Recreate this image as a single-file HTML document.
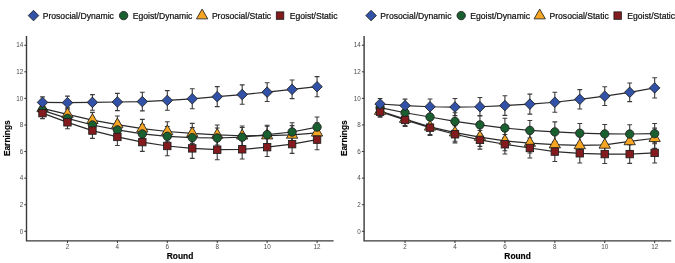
<!DOCTYPE html>
<html><head><meta charset="utf-8"><title>Earnings by Round</title>
<style>
html,body{margin:0;padding:0;background:#fff;}
body{width:675px;height:263px;overflow:hidden;}
svg{display:block;filter:blur(0.3px);}
text{font-family:"Liberation Sans",sans-serif;}
.tk{font-size:6.3px;fill:#4d4d4d;}
.ttl{font-size:8.4px;font-weight:bold;fill:#000;stroke:#000;stroke-width:0.15px;}
.lg{font-size:8.6px;fill:#111;stroke:#111;stroke-width:0.22px;}
</style></head><body>
<svg width="675" height="263" viewBox="0 0 675 263">
<rect width="675" height="263" fill="#fff"/>
<path d="M26.5 36V240.9H333.6" fill="none" stroke="#3a3a3a" stroke-width="1.4"/>
<line x1="24.3" y1="231.3" x2="26.5" y2="231.3" stroke="#333" stroke-width="1"/>
<text x="23.2" y="233.5" class="tk" text-anchor="end">0</text>
<line x1="24.3" y1="204.72" x2="26.5" y2="204.72" stroke="#333" stroke-width="1"/>
<text x="23.2" y="206.92" class="tk" text-anchor="end">2</text>
<line x1="24.3" y1="178.14" x2="26.5" y2="178.14" stroke="#333" stroke-width="1"/>
<text x="23.2" y="180.34" class="tk" text-anchor="end">4</text>
<line x1="24.3" y1="151.56" x2="26.5" y2="151.56" stroke="#333" stroke-width="1"/>
<text x="23.2" y="153.76" class="tk" text-anchor="end">6</text>
<line x1="24.3" y1="124.98" x2="26.5" y2="124.98" stroke="#333" stroke-width="1"/>
<text x="23.2" y="127.18" class="tk" text-anchor="end">8</text>
<line x1="24.3" y1="98.4" x2="26.5" y2="98.4" stroke="#333" stroke-width="1"/>
<text x="23.2" y="100.6" class="tk" text-anchor="end">10</text>
<line x1="24.3" y1="71.82" x2="26.5" y2="71.82" stroke="#333" stroke-width="1"/>
<text x="23.2" y="74.02" class="tk" text-anchor="end">12</text>
<line x1="24.3" y1="45.24" x2="26.5" y2="45.24" stroke="#333" stroke-width="1"/>
<text x="23.2" y="47.44" class="tk" text-anchor="end">14</text>
<line x1="67.46" y1="240.9" x2="67.46" y2="243.1" stroke="#333" stroke-width="1"/>
<text x="67.46" y="249.15" class="tk" text-anchor="middle">2</text>
<line x1="117.38" y1="240.9" x2="117.38" y2="243.1" stroke="#333" stroke-width="1"/>
<text x="117.38" y="249.15" class="tk" text-anchor="middle">4</text>
<line x1="167.3" y1="240.9" x2="167.3" y2="243.1" stroke="#333" stroke-width="1"/>
<text x="167.3" y="249.15" class="tk" text-anchor="middle">6</text>
<line x1="217.22" y1="240.9" x2="217.22" y2="243.1" stroke="#333" stroke-width="1"/>
<text x="217.22" y="249.15" class="tk" text-anchor="middle">8</text>
<line x1="267.14" y1="240.9" x2="267.14" y2="243.1" stroke="#333" stroke-width="1"/>
<text x="267.14" y="249.15" class="tk" text-anchor="middle">10</text>
<line x1="317.06" y1="240.9" x2="317.06" y2="243.1" stroke="#333" stroke-width="1"/>
<text x="317.06" y="249.15" class="tk" text-anchor="middle">12</text>
<text x="180" y="258.8" class="ttl" text-anchor="middle">Round</text>
<text transform="translate(9.8 138.2) rotate(-90)" class="ttl" text-anchor="middle">Earnings</text>
<polyline points="42.5,102.39 67.46,102.65 92.42,102.39 117.38,101.99 142.34,101.59 167.3,100.39 192.26,98.8 217.22,96.67 242.18,94.55 267.14,92.15 292.1,89.36 317.06,86.7" fill="none" stroke="#2a2a2a" stroke-width="1.2"/>
<polyline points="42.5,108.37 67.46,114.35 92.42,120.2 117.38,124.58 142.34,128.7 167.3,131.49 192.26,133.35 217.22,134.95 242.18,135.74 267.14,135.61 292.1,134.95 317.06,132.82" fill="none" stroke="#2a2a2a" stroke-width="1.2"/>
<polyline points="42.5,110.36 67.46,118.34 92.42,124.98 117.38,129.9 142.34,133.88 167.3,136.28 192.26,137.61 217.22,138 242.18,137.21 267.14,134.68 292.1,132.02 317.06,127.11" fill="none" stroke="#2a2a2a" stroke-width="1.2"/>
<polyline points="42.5,113.15 67.46,122.32 92.42,130.56 117.38,136.94 142.34,142.12 167.3,145.98 192.26,148.37 217.22,149.7 242.18,149.3 267.14,147.17 292.1,144.12 317.06,139.6" fill="none" stroke="#2a2a2a" stroke-width="1.2"/>
<path d="M42.5 96.89V107.89M40.1 96.89H44.9M40.1 107.89H44.9" fill="none" stroke="#3a3a3a" stroke-width="1.1"/>
<path d="M67.46 96.15V109.15M65.06 96.15H69.86M65.06 109.15H69.86" fill="none" stroke="#3a3a3a" stroke-width="1.1"/>
<path d="M92.42 94.59V110.19M90.02 94.59H94.82M90.02 110.19H94.82" fill="none" stroke="#3a3a3a" stroke-width="1.1"/>
<path d="M117.38 93.39V110.59M114.98 93.39H119.78M114.98 110.59H119.78" fill="none" stroke="#3a3a3a" stroke-width="1.1"/>
<path d="M142.34 92.29V110.89M139.94 92.29H144.74M139.94 110.89H144.74" fill="none" stroke="#3a3a3a" stroke-width="1.1"/>
<path d="M167.3 90.59V110.19M164.9 90.59H169.7M164.9 110.19H169.7" fill="none" stroke="#3a3a3a" stroke-width="1.1"/>
<path d="M192.26 88.8V108.8M189.86 88.8H194.66M189.86 108.8H194.66" fill="none" stroke="#3a3a3a" stroke-width="1.1"/>
<path d="M217.22 86.67V106.67M214.82 86.67H219.62M214.82 106.67H219.62" fill="none" stroke="#3a3a3a" stroke-width="1.1"/>
<path d="M242.18 84.85V104.25M239.78 84.85H244.58M239.78 104.25H244.58" fill="none" stroke="#3a3a3a" stroke-width="1.1"/>
<path d="M267.14 82.75V101.55M264.74 82.75H269.54M264.74 101.55H269.54" fill="none" stroke="#3a3a3a" stroke-width="1.1"/>
<path d="M292.1 80.06V98.66M289.7 80.06H294.5M289.7 98.66H294.5" fill="none" stroke="#3a3a3a" stroke-width="1.1"/>
<path d="M317.06 76.6V96.8M314.66 76.6H319.46M314.66 96.8H319.46" fill="none" stroke="#3a3a3a" stroke-width="1.1"/>
<path d="M42.5 102.87V113.87M40.1 102.87H44.9M40.1 113.87H44.9" fill="none" stroke="#3a3a3a" stroke-width="1.1"/>
<path d="M67.46 107.85V120.85M65.06 107.85H69.86M65.06 120.85H69.86" fill="none" stroke="#3a3a3a" stroke-width="1.1"/>
<path d="M92.42 112.4V128M90.02 112.4H94.82M90.02 128H94.82" fill="none" stroke="#3a3a3a" stroke-width="1.1"/>
<path d="M117.38 115.98V133.18M114.98 115.98H119.78M114.98 133.18H119.78" fill="none" stroke="#3a3a3a" stroke-width="1.1"/>
<path d="M142.34 119.4V138M139.94 119.4H144.74M139.94 138H144.74" fill="none" stroke="#3a3a3a" stroke-width="1.1"/>
<path d="M167.3 121.69V141.29M164.9 121.69H169.7M164.9 141.29H169.7" fill="none" stroke="#3a3a3a" stroke-width="1.1"/>
<path d="M192.26 123.35V143.35M189.86 123.35H194.66M189.86 143.35H194.66" fill="none" stroke="#3a3a3a" stroke-width="1.1"/>
<path d="M217.22 124.95V144.95M214.82 124.95H219.62M214.82 144.95H219.62" fill="none" stroke="#3a3a3a" stroke-width="1.1"/>
<path d="M242.18 126.04V145.44M239.78 126.04H244.58M239.78 145.44H244.58" fill="none" stroke="#3a3a3a" stroke-width="1.1"/>
<path d="M267.14 126.21V145.01M264.74 126.21H269.54M264.74 145.01H269.54" fill="none" stroke="#3a3a3a" stroke-width="1.1"/>
<path d="M292.1 125.65V144.25M289.7 125.65H294.5M289.7 144.25H294.5" fill="none" stroke="#3a3a3a" stroke-width="1.1"/>
<path d="M317.06 122.72V142.92M314.66 122.72H319.46M314.66 142.92H319.46" fill="none" stroke="#3a3a3a" stroke-width="1.1"/>
<path d="M42.5 104.86V115.86M40.1 104.86H44.9M40.1 115.86H44.9" fill="none" stroke="#3a3a3a" stroke-width="1.1"/>
<path d="M67.46 111.84V124.84M65.06 111.84H69.86M65.06 124.84H69.86" fill="none" stroke="#3a3a3a" stroke-width="1.1"/>
<path d="M92.42 117.18V132.78M90.02 117.18H94.82M90.02 132.78H94.82" fill="none" stroke="#3a3a3a" stroke-width="1.1"/>
<path d="M117.38 121.3V138.5M114.98 121.3H119.78M114.98 138.5H119.78" fill="none" stroke="#3a3a3a" stroke-width="1.1"/>
<path d="M142.34 124.58V143.18M139.94 124.58H144.74M139.94 143.18H144.74" fill="none" stroke="#3a3a3a" stroke-width="1.1"/>
<path d="M167.3 126.48V146.08M164.9 126.48H169.7M164.9 146.08H169.7" fill="none" stroke="#3a3a3a" stroke-width="1.1"/>
<path d="M192.26 127.61V147.61M189.86 127.61H194.66M189.86 147.61H194.66" fill="none" stroke="#3a3a3a" stroke-width="1.1"/>
<path d="M217.22 128V148M214.82 128H219.62M214.82 148H219.62" fill="none" stroke="#3a3a3a" stroke-width="1.1"/>
<path d="M242.18 127.51V146.91M239.78 127.51H244.58M239.78 146.91H244.58" fill="none" stroke="#3a3a3a" stroke-width="1.1"/>
<path d="M267.14 125.28V144.08M264.74 125.28H269.54M264.74 144.08H269.54" fill="none" stroke="#3a3a3a" stroke-width="1.1"/>
<path d="M292.1 122.72V141.32M289.7 122.72H294.5M289.7 141.32H294.5" fill="none" stroke="#3a3a3a" stroke-width="1.1"/>
<path d="M317.06 117.01V137.21M314.66 117.01H319.46M314.66 137.21H319.46" fill="none" stroke="#3a3a3a" stroke-width="1.1"/>
<path d="M42.5 107.65V118.65M40.1 107.65H44.9M40.1 118.65H44.9" fill="none" stroke="#3a3a3a" stroke-width="1.1"/>
<path d="M67.46 115.82V128.82M65.06 115.82H69.86M65.06 128.82H69.86" fill="none" stroke="#3a3a3a" stroke-width="1.1"/>
<path d="M92.42 122.76V138.36M90.02 122.76H94.82M90.02 138.36H94.82" fill="none" stroke="#3a3a3a" stroke-width="1.1"/>
<path d="M117.38 128.34V145.54M114.98 128.34H119.78M114.98 145.54H119.78" fill="none" stroke="#3a3a3a" stroke-width="1.1"/>
<path d="M142.34 132.82V151.42M139.94 132.82H144.74M139.94 151.42H144.74" fill="none" stroke="#3a3a3a" stroke-width="1.1"/>
<path d="M167.3 136.18V155.78M164.9 136.18H169.7M164.9 155.78H169.7" fill="none" stroke="#3a3a3a" stroke-width="1.1"/>
<path d="M192.26 138.37V158.37M189.86 138.37H194.66M189.86 158.37H194.66" fill="none" stroke="#3a3a3a" stroke-width="1.1"/>
<path d="M217.22 139.7V159.7M214.82 139.7H219.62M214.82 159.7H219.62" fill="none" stroke="#3a3a3a" stroke-width="1.1"/>
<path d="M242.18 139.6V159M239.78 139.6H244.58M239.78 159H244.58" fill="none" stroke="#3a3a3a" stroke-width="1.1"/>
<path d="M267.14 137.77V156.57M264.74 137.77H269.54M264.74 156.57H269.54" fill="none" stroke="#3a3a3a" stroke-width="1.1"/>
<path d="M292.1 134.82V153.42M289.7 134.82H294.5M289.7 153.42H294.5" fill="none" stroke="#3a3a3a" stroke-width="1.1"/>
<path d="M317.06 129.5V149.7M314.66 129.5H319.46M314.66 149.7H319.46" fill="none" stroke="#3a3a3a" stroke-width="1.1"/>
<path d="M42.5 101.84L48.16 111.63L36.84 111.63Z" fill="#f6a623" stroke="#1e1e1e" stroke-width="0.85" stroke-linejoin="miter"/>
<path d="M67.46 107.82L73.12 117.61L61.8 117.61Z" fill="#f6a623" stroke="#1e1e1e" stroke-width="0.85" stroke-linejoin="miter"/>
<path d="M92.42 113.66L98.08 123.46L86.76 123.46Z" fill="#f6a623" stroke="#1e1e1e" stroke-width="0.85" stroke-linejoin="miter"/>
<path d="M117.38 118.05L123.04 127.85L111.72 127.85Z" fill="#f6a623" stroke="#1e1e1e" stroke-width="0.85" stroke-linejoin="miter"/>
<path d="M142.34 122.17L148 131.97L136.68 131.97Z" fill="#f6a623" stroke="#1e1e1e" stroke-width="0.85" stroke-linejoin="miter"/>
<path d="M167.3 124.96L172.96 134.76L161.64 134.76Z" fill="#f6a623" stroke="#1e1e1e" stroke-width="0.85" stroke-linejoin="miter"/>
<path d="M192.26 126.82L197.92 136.62L186.6 136.62Z" fill="#f6a623" stroke="#1e1e1e" stroke-width="0.85" stroke-linejoin="miter"/>
<path d="M217.22 128.42L222.88 138.21L211.56 138.21Z" fill="#f6a623" stroke="#1e1e1e" stroke-width="0.85" stroke-linejoin="miter"/>
<path d="M242.18 129.21L247.84 139.01L236.52 139.01Z" fill="#f6a623" stroke="#1e1e1e" stroke-width="0.85" stroke-linejoin="miter"/>
<path d="M267.14 129.08L272.8 138.88L261.48 138.88Z" fill="#f6a623" stroke="#1e1e1e" stroke-width="0.85" stroke-linejoin="miter"/>
<path d="M292.1 128.42L297.76 138.21L286.44 138.21Z" fill="#f6a623" stroke="#1e1e1e" stroke-width="0.85" stroke-linejoin="miter"/>
<path d="M317.06 126.29L322.72 136.09L311.4 136.09Z" fill="#f6a623" stroke="#1e1e1e" stroke-width="0.85" stroke-linejoin="miter"/>
<circle cx="42.5" cy="110.36" r="4.2" fill="#1a5f30" stroke="#1e1e1e" stroke-width="0.85"/>
<circle cx="67.46" cy="118.34" r="4.2" fill="#1a5f30" stroke="#1e1e1e" stroke-width="0.85"/>
<circle cx="92.42" cy="124.98" r="4.2" fill="#1a5f30" stroke="#1e1e1e" stroke-width="0.85"/>
<circle cx="117.38" cy="129.9" r="4.2" fill="#1a5f30" stroke="#1e1e1e" stroke-width="0.85"/>
<circle cx="142.34" cy="133.88" r="4.2" fill="#1a5f30" stroke="#1e1e1e" stroke-width="0.85"/>
<circle cx="167.3" cy="136.28" r="4.2" fill="#1a5f30" stroke="#1e1e1e" stroke-width="0.85"/>
<circle cx="192.26" cy="137.61" r="4.2" fill="#1a5f30" stroke="#1e1e1e" stroke-width="0.85"/>
<circle cx="217.22" cy="138" r="4.2" fill="#1a5f30" stroke="#1e1e1e" stroke-width="0.85"/>
<circle cx="242.18" cy="137.21" r="4.2" fill="#1a5f30" stroke="#1e1e1e" stroke-width="0.85"/>
<circle cx="267.14" cy="134.68" r="4.2" fill="#1a5f30" stroke="#1e1e1e" stroke-width="0.85"/>
<circle cx="292.1" cy="132.02" r="4.2" fill="#1a5f30" stroke="#1e1e1e" stroke-width="0.85"/>
<circle cx="317.06" cy="127.11" r="4.2" fill="#1a5f30" stroke="#1e1e1e" stroke-width="0.85"/>
<rect x="38.78" y="109.43" width="7.44" height="7.44" fill="#831a1d" stroke="#1e1e1e" stroke-width="0.85"/>
<rect x="63.74" y="118.6" width="7.44" height="7.44" fill="#831a1d" stroke="#1e1e1e" stroke-width="0.85"/>
<rect x="88.7" y="126.84" width="7.44" height="7.44" fill="#831a1d" stroke="#1e1e1e" stroke-width="0.85"/>
<rect x="113.66" y="133.22" width="7.44" height="7.44" fill="#831a1d" stroke="#1e1e1e" stroke-width="0.85"/>
<rect x="138.62" y="138.4" width="7.44" height="7.44" fill="#831a1d" stroke="#1e1e1e" stroke-width="0.85"/>
<rect x="163.58" y="142.26" width="7.44" height="7.44" fill="#831a1d" stroke="#1e1e1e" stroke-width="0.85"/>
<rect x="188.54" y="144.65" width="7.44" height="7.44" fill="#831a1d" stroke="#1e1e1e" stroke-width="0.85"/>
<rect x="213.5" y="145.98" width="7.44" height="7.44" fill="#831a1d" stroke="#1e1e1e" stroke-width="0.85"/>
<rect x="238.46" y="145.58" width="7.44" height="7.44" fill="#831a1d" stroke="#1e1e1e" stroke-width="0.85"/>
<rect x="263.42" y="143.45" width="7.44" height="7.44" fill="#831a1d" stroke="#1e1e1e" stroke-width="0.85"/>
<rect x="288.38" y="140.4" width="7.44" height="7.44" fill="#831a1d" stroke="#1e1e1e" stroke-width="0.85"/>
<rect x="313.34" y="135.88" width="7.44" height="7.44" fill="#831a1d" stroke="#1e1e1e" stroke-width="0.85"/>
<path d="M37.24 102.39L42.5 97.12L47.76 102.39L42.5 107.65Z" fill="#3152a6" stroke="#1e1e1e" stroke-width="0.85" stroke-linejoin="miter"/>
<path d="M62.2 102.65L67.46 97.39L72.72 102.65L67.46 107.92Z" fill="#3152a6" stroke="#1e1e1e" stroke-width="0.85" stroke-linejoin="miter"/>
<path d="M87.16 102.39L92.42 97.12L97.68 102.39L92.42 107.65Z" fill="#3152a6" stroke="#1e1e1e" stroke-width="0.85" stroke-linejoin="miter"/>
<path d="M112.12 101.99L117.38 96.72L122.64 101.99L117.38 107.25Z" fill="#3152a6" stroke="#1e1e1e" stroke-width="0.85" stroke-linejoin="miter"/>
<path d="M137.08 101.59L142.34 96.33L147.6 101.59L142.34 106.85Z" fill="#3152a6" stroke="#1e1e1e" stroke-width="0.85" stroke-linejoin="miter"/>
<path d="M162.04 100.39L167.3 95.13L172.56 100.39L167.3 105.66Z" fill="#3152a6" stroke="#1e1e1e" stroke-width="0.85" stroke-linejoin="miter"/>
<path d="M187 98.8L192.26 93.53L197.52 98.8L192.26 104.06Z" fill="#3152a6" stroke="#1e1e1e" stroke-width="0.85" stroke-linejoin="miter"/>
<path d="M211.96 96.67L217.22 91.41L222.48 96.67L217.22 101.94Z" fill="#3152a6" stroke="#1e1e1e" stroke-width="0.85" stroke-linejoin="miter"/>
<path d="M236.92 94.55L242.18 89.28L247.44 94.55L242.18 99.81Z" fill="#3152a6" stroke="#1e1e1e" stroke-width="0.85" stroke-linejoin="miter"/>
<path d="M261.88 92.15L267.14 86.89L272.4 92.15L267.14 97.42Z" fill="#3152a6" stroke="#1e1e1e" stroke-width="0.85" stroke-linejoin="miter"/>
<path d="M286.84 89.36L292.1 84.1L297.36 89.36L292.1 94.63Z" fill="#3152a6" stroke="#1e1e1e" stroke-width="0.85" stroke-linejoin="miter"/>
<path d="M311.8 86.7L317.06 81.44L322.32 86.7L317.06 91.97Z" fill="#3152a6" stroke="#1e1e1e" stroke-width="0.85" stroke-linejoin="miter"/>
<path d="M28.24 15.6L33.5 10.34L38.76 15.6L33.5 20.86Z" fill="#3152a6" stroke="#1e1e1e" stroke-width="0.85" stroke-linejoin="miter"/>
<text x="42.7" y="18.6" class="lg">Prosocial/Dynamic</text>
<circle cx="123.6" cy="15.6" r="4.2" fill="#1a5f30" stroke="#1e1e1e" stroke-width="0.85"/>
<text x="132.7" y="18.6" class="lg">Egoist/Dynamic</text>
<path d="M202.1 9.07L207.76 18.87L196.44 18.87Z" fill="#f6a623" stroke="#1e1e1e" stroke-width="0.85" stroke-linejoin="miter"/>
<text x="211.9" y="18.6" class="lg">Prosocial/Static</text>
<rect x="276.33" y="11.88" width="7.44" height="7.44" fill="#831a1d" stroke="#1e1e1e" stroke-width="0.85"/>
<text x="289.7" y="18.6" class="lg">Egoist/Static</text>
<path d="M364.1 36V240.9H671.2" fill="none" stroke="#3a3a3a" stroke-width="1.4"/>
<line x1="361.9" y1="231.3" x2="364.1" y2="231.3" stroke="#333" stroke-width="1"/>
<text x="360.8" y="233.5" class="tk" text-anchor="end">0</text>
<line x1="361.9" y1="204.72" x2="364.1" y2="204.72" stroke="#333" stroke-width="1"/>
<text x="360.8" y="206.92" class="tk" text-anchor="end">2</text>
<line x1="361.9" y1="178.14" x2="364.1" y2="178.14" stroke="#333" stroke-width="1"/>
<text x="360.8" y="180.34" class="tk" text-anchor="end">4</text>
<line x1="361.9" y1="151.56" x2="364.1" y2="151.56" stroke="#333" stroke-width="1"/>
<text x="360.8" y="153.76" class="tk" text-anchor="end">6</text>
<line x1="361.9" y1="124.98" x2="364.1" y2="124.98" stroke="#333" stroke-width="1"/>
<text x="360.8" y="127.18" class="tk" text-anchor="end">8</text>
<line x1="361.9" y1="98.4" x2="364.1" y2="98.4" stroke="#333" stroke-width="1"/>
<text x="360.8" y="100.6" class="tk" text-anchor="end">10</text>
<line x1="361.9" y1="71.82" x2="364.1" y2="71.82" stroke="#333" stroke-width="1"/>
<text x="360.8" y="74.02" class="tk" text-anchor="end">12</text>
<line x1="361.9" y1="45.24" x2="364.1" y2="45.24" stroke="#333" stroke-width="1"/>
<text x="360.8" y="47.44" class="tk" text-anchor="end">14</text>
<line x1="405.06" y1="240.9" x2="405.06" y2="243.1" stroke="#333" stroke-width="1"/>
<text x="405.06" y="249.15" class="tk" text-anchor="middle">2</text>
<line x1="454.98" y1="240.9" x2="454.98" y2="243.1" stroke="#333" stroke-width="1"/>
<text x="454.98" y="249.15" class="tk" text-anchor="middle">4</text>
<line x1="504.9" y1="240.9" x2="504.9" y2="243.1" stroke="#333" stroke-width="1"/>
<text x="504.9" y="249.15" class="tk" text-anchor="middle">6</text>
<line x1="554.82" y1="240.9" x2="554.82" y2="243.1" stroke="#333" stroke-width="1"/>
<text x="554.82" y="249.15" class="tk" text-anchor="middle">8</text>
<line x1="604.74" y1="240.9" x2="604.74" y2="243.1" stroke="#333" stroke-width="1"/>
<text x="604.74" y="249.15" class="tk" text-anchor="middle">10</text>
<line x1="654.66" y1="240.9" x2="654.66" y2="243.1" stroke="#333" stroke-width="1"/>
<text x="654.66" y="249.15" class="tk" text-anchor="middle">12</text>
<text x="517.6" y="258.8" class="ttl" text-anchor="middle">Round</text>
<text transform="translate(347.4 138.2) rotate(-90)" class="ttl" text-anchor="middle">Earnings</text>
<polyline points="380.1,103.98 405.06,105.58 430.02,106.77 454.98,107.04 479.94,106.77 504.9,105.58 529.86,104.11 554.82,102.25 579.78,99.33 604.74,96.14 629.7,92.29 654.66,87.9" fill="none" stroke="#2a2a2a" stroke-width="1.2"/>
<polyline points="380.1,111.03 405.06,119.13 430.02,126.84 454.98,132.69 479.94,137.07 504.9,140.93 529.86,143.05 554.82,144.65 579.78,145.45 604.74,144.92 629.7,141.46 654.66,138.27" fill="none" stroke="#2a2a2a" stroke-width="1.2"/>
<polyline points="380.1,107.7 405.06,112.75 430.02,117.01 454.98,121.39 479.94,124.85 504.9,128.04 529.86,130.43 554.82,131.89 579.78,133.22 604.74,133.88 629.7,134.02 654.66,133.62" fill="none" stroke="#2a2a2a" stroke-width="1.2"/>
<polyline points="380.1,111.69 405.06,119.93 430.02,127.64 454.98,134.28 479.94,139.86 504.9,144.25 529.86,147.97 554.82,151.56 579.78,153.29 604.74,154.09 629.7,154.09 654.66,152.89" fill="none" stroke="#2a2a2a" stroke-width="1.2"/>
<path d="M380.1 98.48V109.48M377.7 98.48H382.5M377.7 109.48H382.5" fill="none" stroke="#3a3a3a" stroke-width="1.1"/>
<path d="M405.06 99.08V112.08M402.66 99.08H407.46M402.66 112.08H407.46" fill="none" stroke="#3a3a3a" stroke-width="1.1"/>
<path d="M430.02 98.97V114.57M427.62 98.97H432.42M427.62 114.57H432.42" fill="none" stroke="#3a3a3a" stroke-width="1.1"/>
<path d="M454.98 98.44V115.64M452.58 98.44H457.38M452.58 115.64H457.38" fill="none" stroke="#3a3a3a" stroke-width="1.1"/>
<path d="M479.94 97.47V116.07M477.54 97.47H482.34M477.54 116.07H482.34" fill="none" stroke="#3a3a3a" stroke-width="1.1"/>
<path d="M504.9 95.78V115.38M502.5 95.78H507.3M502.5 115.38H507.3" fill="none" stroke="#3a3a3a" stroke-width="1.1"/>
<path d="M529.86 94.11V114.11M527.46 94.11H532.26M527.46 114.11H532.26" fill="none" stroke="#3a3a3a" stroke-width="1.1"/>
<path d="M554.82 92.25V112.25M552.42 92.25H557.22M552.42 112.25H557.22" fill="none" stroke="#3a3a3a" stroke-width="1.1"/>
<path d="M579.78 89.63V109.03M577.38 89.63H582.18M577.38 109.03H582.18" fill="none" stroke="#3a3a3a" stroke-width="1.1"/>
<path d="M604.74 86.74V105.54M602.34 86.74H607.14M602.34 105.54H607.14" fill="none" stroke="#3a3a3a" stroke-width="1.1"/>
<path d="M629.7 82.99V101.59M627.3 82.99H632.1M627.3 101.59H632.1" fill="none" stroke="#3a3a3a" stroke-width="1.1"/>
<path d="M654.66 77.8V98M652.26 77.8H657.06M652.26 98H657.06" fill="none" stroke="#3a3a3a" stroke-width="1.1"/>
<path d="M380.1 105.53V116.53M377.7 105.53H382.5M377.7 116.53H382.5" fill="none" stroke="#3a3a3a" stroke-width="1.1"/>
<path d="M405.06 112.63V125.63M402.66 112.63H407.46M402.66 125.63H407.46" fill="none" stroke="#3a3a3a" stroke-width="1.1"/>
<path d="M430.02 119.04V134.64M427.62 119.04H432.42M427.62 134.64H432.42" fill="none" stroke="#3a3a3a" stroke-width="1.1"/>
<path d="M454.98 124.09V141.29M452.58 124.09H457.38M452.58 141.29H457.38" fill="none" stroke="#3a3a3a" stroke-width="1.1"/>
<path d="M479.94 127.77V146.37M477.54 127.77H482.34M477.54 146.37H482.34" fill="none" stroke="#3a3a3a" stroke-width="1.1"/>
<path d="M504.9 131.13V150.73M502.5 131.13H507.3M502.5 150.73H507.3" fill="none" stroke="#3a3a3a" stroke-width="1.1"/>
<path d="M529.86 133.05V153.05M527.46 133.05H532.26M527.46 153.05H532.26" fill="none" stroke="#3a3a3a" stroke-width="1.1"/>
<path d="M554.82 134.65V154.65M552.42 134.65H557.22M552.42 154.65H557.22" fill="none" stroke="#3a3a3a" stroke-width="1.1"/>
<path d="M579.78 135.75V155.15M577.38 135.75H582.18M577.38 155.15H582.18" fill="none" stroke="#3a3a3a" stroke-width="1.1"/>
<path d="M604.74 135.52V154.32M602.34 135.52H607.14M602.34 154.32H607.14" fill="none" stroke="#3a3a3a" stroke-width="1.1"/>
<path d="M629.7 132.16V150.76M627.3 132.16H632.1M627.3 150.76H632.1" fill="none" stroke="#3a3a3a" stroke-width="1.1"/>
<path d="M654.66 128.17V148.37M652.26 128.17H657.06M652.26 148.37H657.06" fill="none" stroke="#3a3a3a" stroke-width="1.1"/>
<path d="M380.1 102.2V113.2M377.7 102.2H382.5M377.7 113.2H382.5" fill="none" stroke="#3a3a3a" stroke-width="1.1"/>
<path d="M405.06 106.25V119.25M402.66 106.25H407.46M402.66 119.25H407.46" fill="none" stroke="#3a3a3a" stroke-width="1.1"/>
<path d="M430.02 109.21V124.81M427.62 109.21H432.42M427.62 124.81H432.42" fill="none" stroke="#3a3a3a" stroke-width="1.1"/>
<path d="M454.98 112.79V129.99M452.58 112.79H457.38M452.58 129.99H457.38" fill="none" stroke="#3a3a3a" stroke-width="1.1"/>
<path d="M479.94 115.55V134.15M477.54 115.55H482.34M477.54 134.15H482.34" fill="none" stroke="#3a3a3a" stroke-width="1.1"/>
<path d="M504.9 118.24V137.84M502.5 118.24H507.3M502.5 137.84H507.3" fill="none" stroke="#3a3a3a" stroke-width="1.1"/>
<path d="M529.86 120.43V140.43M527.46 120.43H532.26M527.46 140.43H532.26" fill="none" stroke="#3a3a3a" stroke-width="1.1"/>
<path d="M554.82 121.89V141.89M552.42 121.89H557.22M552.42 141.89H557.22" fill="none" stroke="#3a3a3a" stroke-width="1.1"/>
<path d="M579.78 123.52V142.92M577.38 123.52H582.18M577.38 142.92H582.18" fill="none" stroke="#3a3a3a" stroke-width="1.1"/>
<path d="M604.74 124.48V143.28M602.34 124.48H607.14M602.34 143.28H607.14" fill="none" stroke="#3a3a3a" stroke-width="1.1"/>
<path d="M629.7 124.72V143.32M627.3 124.72H632.1M627.3 143.32H632.1" fill="none" stroke="#3a3a3a" stroke-width="1.1"/>
<path d="M654.66 123.52V143.72M652.26 123.52H657.06M652.26 143.72H657.06" fill="none" stroke="#3a3a3a" stroke-width="1.1"/>
<path d="M380.1 106.19V117.19M377.7 106.19H382.5M377.7 117.19H382.5" fill="none" stroke="#3a3a3a" stroke-width="1.1"/>
<path d="M405.06 113.43V126.43M402.66 113.43H407.46M402.66 126.43H407.46" fill="none" stroke="#3a3a3a" stroke-width="1.1"/>
<path d="M430.02 119.84V135.44M427.62 119.84H432.42M427.62 135.44H432.42" fill="none" stroke="#3a3a3a" stroke-width="1.1"/>
<path d="M454.98 125.68V142.88M452.58 125.68H457.38M452.58 142.88H457.38" fill="none" stroke="#3a3a3a" stroke-width="1.1"/>
<path d="M479.94 130.56V149.16M477.54 130.56H482.34M477.54 149.16H482.34" fill="none" stroke="#3a3a3a" stroke-width="1.1"/>
<path d="M504.9 134.45V154.05M502.5 134.45H507.3M502.5 154.05H507.3" fill="none" stroke="#3a3a3a" stroke-width="1.1"/>
<path d="M529.86 137.97V157.97M527.46 137.97H532.26M527.46 157.97H532.26" fill="none" stroke="#3a3a3a" stroke-width="1.1"/>
<path d="M554.82 141.56V161.56M552.42 141.56H557.22M552.42 161.56H557.22" fill="none" stroke="#3a3a3a" stroke-width="1.1"/>
<path d="M579.78 143.59V162.99M577.38 143.59H582.18M577.38 162.99H582.18" fill="none" stroke="#3a3a3a" stroke-width="1.1"/>
<path d="M604.74 144.69V163.49M602.34 144.69H607.14M602.34 163.49H607.14" fill="none" stroke="#3a3a3a" stroke-width="1.1"/>
<path d="M629.7 144.79V163.39M627.3 144.79H632.1M627.3 163.39H632.1" fill="none" stroke="#3a3a3a" stroke-width="1.1"/>
<path d="M654.66 142.79V162.99M652.26 142.79H657.06M652.26 162.99H657.06" fill="none" stroke="#3a3a3a" stroke-width="1.1"/>
<path d="M380.1 104.49L385.76 114.29L374.44 114.29Z" fill="#f6a623" stroke="#1e1e1e" stroke-width="0.85" stroke-linejoin="miter"/>
<path d="M405.06 112.6L410.72 122.4L399.4 122.4Z" fill="#f6a623" stroke="#1e1e1e" stroke-width="0.85" stroke-linejoin="miter"/>
<path d="M430.02 120.31L435.68 130.11L424.36 130.11Z" fill="#f6a623" stroke="#1e1e1e" stroke-width="0.85" stroke-linejoin="miter"/>
<path d="M454.98 126.16L460.64 135.95L449.32 135.95Z" fill="#f6a623" stroke="#1e1e1e" stroke-width="0.85" stroke-linejoin="miter"/>
<path d="M479.94 130.54L485.6 140.34L474.28 140.34Z" fill="#f6a623" stroke="#1e1e1e" stroke-width="0.85" stroke-linejoin="miter"/>
<path d="M504.9 134.4L510.56 144.19L499.24 144.19Z" fill="#f6a623" stroke="#1e1e1e" stroke-width="0.85" stroke-linejoin="miter"/>
<path d="M529.86 136.52L535.52 146.32L524.2 146.32Z" fill="#f6a623" stroke="#1e1e1e" stroke-width="0.85" stroke-linejoin="miter"/>
<path d="M554.82 138.12L560.48 147.92L549.16 147.92Z" fill="#f6a623" stroke="#1e1e1e" stroke-width="0.85" stroke-linejoin="miter"/>
<path d="M579.78 138.92L585.44 148.71L574.12 148.71Z" fill="#f6a623" stroke="#1e1e1e" stroke-width="0.85" stroke-linejoin="miter"/>
<path d="M604.74 138.38L610.4 148.18L599.08 148.18Z" fill="#f6a623" stroke="#1e1e1e" stroke-width="0.85" stroke-linejoin="miter"/>
<path d="M629.7 134.93L635.36 144.73L624.04 144.73Z" fill="#f6a623" stroke="#1e1e1e" stroke-width="0.85" stroke-linejoin="miter"/>
<path d="M654.66 131.74L660.32 141.54L649 141.54Z" fill="#f6a623" stroke="#1e1e1e" stroke-width="0.85" stroke-linejoin="miter"/>
<circle cx="380.1" cy="107.7" r="4.2" fill="#1a5f30" stroke="#1e1e1e" stroke-width="0.85"/>
<circle cx="405.06" cy="112.75" r="4.2" fill="#1a5f30" stroke="#1e1e1e" stroke-width="0.85"/>
<circle cx="430.02" cy="117.01" r="4.2" fill="#1a5f30" stroke="#1e1e1e" stroke-width="0.85"/>
<circle cx="454.98" cy="121.39" r="4.2" fill="#1a5f30" stroke="#1e1e1e" stroke-width="0.85"/>
<circle cx="479.94" cy="124.85" r="4.2" fill="#1a5f30" stroke="#1e1e1e" stroke-width="0.85"/>
<circle cx="504.9" cy="128.04" r="4.2" fill="#1a5f30" stroke="#1e1e1e" stroke-width="0.85"/>
<circle cx="529.86" cy="130.43" r="4.2" fill="#1a5f30" stroke="#1e1e1e" stroke-width="0.85"/>
<circle cx="554.82" cy="131.89" r="4.2" fill="#1a5f30" stroke="#1e1e1e" stroke-width="0.85"/>
<circle cx="579.78" cy="133.22" r="4.2" fill="#1a5f30" stroke="#1e1e1e" stroke-width="0.85"/>
<circle cx="604.74" cy="133.88" r="4.2" fill="#1a5f30" stroke="#1e1e1e" stroke-width="0.85"/>
<circle cx="629.7" cy="134.02" r="4.2" fill="#1a5f30" stroke="#1e1e1e" stroke-width="0.85"/>
<circle cx="654.66" cy="133.62" r="4.2" fill="#1a5f30" stroke="#1e1e1e" stroke-width="0.85"/>
<rect x="376.38" y="107.97" width="7.44" height="7.44" fill="#831a1d" stroke="#1e1e1e" stroke-width="0.85"/>
<rect x="401.34" y="116.21" width="7.44" height="7.44" fill="#831a1d" stroke="#1e1e1e" stroke-width="0.85"/>
<rect x="426.3" y="123.92" width="7.44" height="7.44" fill="#831a1d" stroke="#1e1e1e" stroke-width="0.85"/>
<rect x="451.26" y="130.56" width="7.44" height="7.44" fill="#831a1d" stroke="#1e1e1e" stroke-width="0.85"/>
<rect x="476.22" y="136.14" width="7.44" height="7.44" fill="#831a1d" stroke="#1e1e1e" stroke-width="0.85"/>
<rect x="501.18" y="140.53" width="7.44" height="7.44" fill="#831a1d" stroke="#1e1e1e" stroke-width="0.85"/>
<rect x="526.14" y="144.25" width="7.44" height="7.44" fill="#831a1d" stroke="#1e1e1e" stroke-width="0.85"/>
<rect x="551.1" y="147.84" width="7.44" height="7.44" fill="#831a1d" stroke="#1e1e1e" stroke-width="0.85"/>
<rect x="576.06" y="149.57" width="7.44" height="7.44" fill="#831a1d" stroke="#1e1e1e" stroke-width="0.85"/>
<rect x="601.02" y="150.36" width="7.44" height="7.44" fill="#831a1d" stroke="#1e1e1e" stroke-width="0.85"/>
<rect x="625.98" y="150.36" width="7.44" height="7.44" fill="#831a1d" stroke="#1e1e1e" stroke-width="0.85"/>
<rect x="650.94" y="149.17" width="7.44" height="7.44" fill="#831a1d" stroke="#1e1e1e" stroke-width="0.85"/>
<path d="M374.84 103.98L380.1 98.72L385.36 103.98L380.1 109.25Z" fill="#3152a6" stroke="#1e1e1e" stroke-width="0.85" stroke-linejoin="miter"/>
<path d="M399.8 105.58L405.06 100.31L410.32 105.58L405.06 110.84Z" fill="#3152a6" stroke="#1e1e1e" stroke-width="0.85" stroke-linejoin="miter"/>
<path d="M424.76 106.77L430.02 101.51L435.28 106.77L430.02 112.04Z" fill="#3152a6" stroke="#1e1e1e" stroke-width="0.85" stroke-linejoin="miter"/>
<path d="M449.72 107.04L454.98 101.77L460.24 107.04L454.98 112.3Z" fill="#3152a6" stroke="#1e1e1e" stroke-width="0.85" stroke-linejoin="miter"/>
<path d="M474.68 106.77L479.94 101.51L485.2 106.77L479.94 112.04Z" fill="#3152a6" stroke="#1e1e1e" stroke-width="0.85" stroke-linejoin="miter"/>
<path d="M499.64 105.58L504.9 100.31L510.16 105.58L504.9 110.84Z" fill="#3152a6" stroke="#1e1e1e" stroke-width="0.85" stroke-linejoin="miter"/>
<path d="M524.6 104.11L529.86 98.85L535.12 104.11L529.86 109.38Z" fill="#3152a6" stroke="#1e1e1e" stroke-width="0.85" stroke-linejoin="miter"/>
<path d="M549.56 102.25L554.82 96.99L560.08 102.25L554.82 107.52Z" fill="#3152a6" stroke="#1e1e1e" stroke-width="0.85" stroke-linejoin="miter"/>
<path d="M574.52 99.33L579.78 94.07L585.04 99.33L579.78 104.59Z" fill="#3152a6" stroke="#1e1e1e" stroke-width="0.85" stroke-linejoin="miter"/>
<path d="M599.48 96.14L604.74 90.88L610 96.14L604.74 101.4Z" fill="#3152a6" stroke="#1e1e1e" stroke-width="0.85" stroke-linejoin="miter"/>
<path d="M624.44 92.29L629.7 87.02L634.96 92.29L629.7 97.55Z" fill="#3152a6" stroke="#1e1e1e" stroke-width="0.85" stroke-linejoin="miter"/>
<path d="M649.4 87.9L654.66 82.64L659.92 87.9L654.66 93.16Z" fill="#3152a6" stroke="#1e1e1e" stroke-width="0.85" stroke-linejoin="miter"/>
<path d="M365.84 15.6L371.1 10.34L376.36 15.6L371.1 20.86Z" fill="#3152a6" stroke="#1e1e1e" stroke-width="0.85" stroke-linejoin="miter"/>
<text x="380.3" y="18.6" class="lg">Prosocial/Dynamic</text>
<circle cx="461.2" cy="15.6" r="4.2" fill="#1a5f30" stroke="#1e1e1e" stroke-width="0.85"/>
<text x="470.3" y="18.6" class="lg">Egoist/Dynamic</text>
<path d="M539.7 9.07L545.36 18.87L534.04 18.87Z" fill="#f6a623" stroke="#1e1e1e" stroke-width="0.85" stroke-linejoin="miter"/>
<text x="549.5" y="18.6" class="lg">Prosocial/Static</text>
<rect x="613.93" y="11.88" width="7.44" height="7.44" fill="#831a1d" stroke="#1e1e1e" stroke-width="0.85"/>
<text x="627.3" y="18.6" class="lg">Egoist/Static</text>
</svg>
</body></html>
